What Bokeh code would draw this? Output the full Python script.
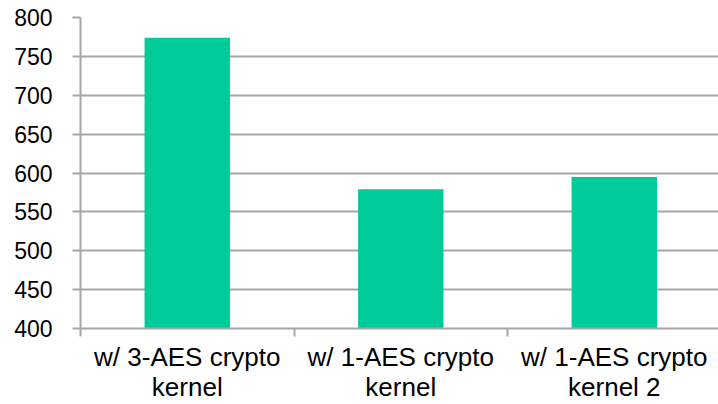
from bokeh.plotting import figure
from bokeh.models import Range1d, FixedTicker
from bokeh.embed import file_html
from bokeh.resources import INLINE

# Data
categories = [
    "w/ 3-AES crypto\nkernel",
    "w/ 1-AES crypto\nkernel",
    "w/ 1-AES crypto\nkernel 2",
]
values = [774, 579, 595]
y_ticks = [400, 450, 500, 550, 600, 650, 700, 750, 800]

centers = [i + 0.5 for i in range(len(categories))]
boundaries = list(range(len(categories) + 1))

BAR = "#00CC99"
GRID = "#a6a6a6"
FONT = "Liberation Sans"

p = figure(
    width=718, height=404,
    output_backend="svg", toolbar_location=None,
    x_range=Range1d(0, 2.988), y_range=Range1d(400, 800),
    min_border_left=80, min_border_right=0,
    min_border_top=17, min_border_bottom=75,
)
p.outline_line_color = None
p.background_fill_color = "white"
p.border_fill_color = "white"

p.vbar(x=centers, top=values, bottom=400, width=0.4,
       fill_color=BAR, line_color=None)

# grid
p.xgrid.grid_line_color = None
p.ygrid.ticker = FixedTicker(ticks=y_ticks)
p.ygrid.grid_line_color = GRID
p.ygrid.grid_line_width = 2

# y axis
ya = p.yaxis[0]
ya.ticker = FixedTicker(ticks=y_ticks)
ya.axis_line_color = GRID
ya.axis_line_width = 2
ya.major_tick_line_color = GRID
ya.major_tick_line_width = 2
ya.major_tick_out = 8
ya.major_tick_in = 0
ya.minor_tick_line_color = None
ya.major_label_standoff = 20
ya.major_label_text_font = FONT
ya.major_label_text_font_size = "23px"
ya.major_label_text_color = "#000000"

# x axis: labels at category centres, ticks at category boundaries
xa = p.xaxis[0]
xa.ticker = FixedTicker(ticks=centers, minor_ticks=boundaries)
xa.major_label_overrides = {c: lab for c, lab in zip(centers, categories)}
xa.axis_line_color = GRID
xa.axis_line_width = 2
xa.major_tick_out = 0
xa.major_tick_in = 0
xa.major_tick_line_color = None
xa.minor_tick_line_color = GRID
xa.minor_tick_line_width = 2
xa.minor_tick_out = 8
xa.minor_tick_in = 0
xa.major_label_standoff = 5
xa.major_label_text_font = FONT
xa.major_label_text_font_size = "26px"
xa.major_label_text_line_height = 1.0
xa.major_label_text_color = "#000000"
xa.major_label_text_align = "center"

open("out.html", "w").write(file_html(p, INLINE))
